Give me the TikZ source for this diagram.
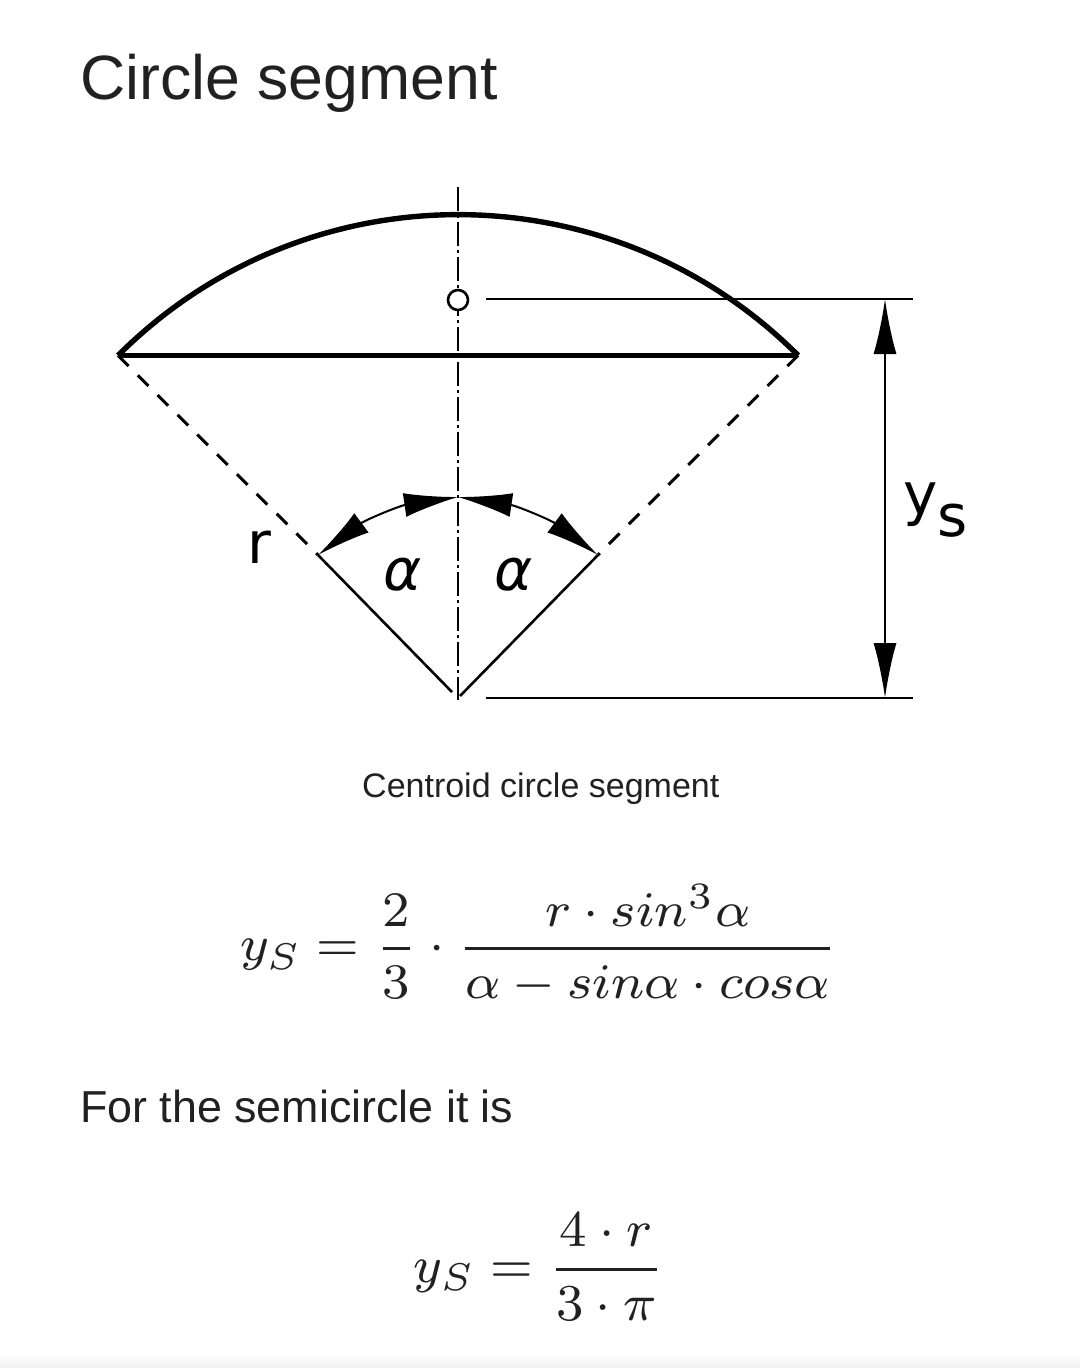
\documentclass[tikz,border=0pt]{standalone}
\usepackage{fontspec}
\usepackage{tikz}
\usetikzlibrary{arrows.meta}
\setmainfont{Liberation Sans}
\newfontfamily\figfont{DejaVu Sans}
\definecolor{textgray}{HTML}{212121}

\tikzset{
  thickline/.style={line width=5.4pt},
  thinline/.style={line width=2pt},
  dashline/.style={line width=3pt, dash pattern=on 15pt off 13pt},
  axisline/.style={line width=1.8pt, dash pattern=on 24pt off 4pt on 3pt off 4pt},
  bigtip/.tip={Latex[length=55pt,width=23pt]},
  arctip/.tip={Latex[length=54pt,width=24pt]},
  heading/.style={anchor=base west, text=textgray, inner sep=0pt},
  formula/.style={transform shape, text=textgray, inner sep=0pt, font=\fontsize{8}{10}\selectfont},
  figlabel/.style={inner sep=0pt, font=\figfont\fontsize{58}{58}\selectfont}
}

\begin{document}
\begin{tikzpicture}[x=1pt, y=-1pt]
        \useasboundingbox (0,0) rectangle (1080,1368);
        \shade [top color=white, bottom color=black!5] (0,1352) rectangle (1080,1368); %page edge
        \coordinate (centre) at (458,698);
        \coordinate (chordL) at (118,355.5);
        \coordinate (chordR) at (798,355.5);
        \coordinate (tickL)  at (318,555);
        \coordinate (tickR)  at (598,555);
        \coordinate (apex)   at (458,497);
        \coordinate (dimT)   at (885,299);
        \coordinate (dimB)   at (885,698);
        \node [heading, font=\fontsize{62.6}{62.6}\selectfont] (title) at (80,99) {Circle segment};
        \draw [thickline]   (chordL) arc [start angle=135, end angle=45, radius=481pt]; %arc
        \draw [thickline]   (chordL) -- (chordR);                                       %chord
        \draw [axisline]    (458,187) -- (458,700);                                     %axis
        \draw [dashline]    (chordL) -- (tickL);                                        %
        \draw [dashline]    (chordR) -- (tickR);                                        %
        \draw [thinline, line width=2.6pt] (tickL) -- (452,692);                        %
        \draw [thinline, line width=2.6pt] (tickR) -- (460,696);                        %
        \node [circle, draw, fill=white, line width=2.6pt, minimum size=20pt, inner sep=0pt] (centroid) at (458,300) {};
        \draw [thinline]    (486,299) -- (913,299);                                     %top
        \draw [thinline]    (486,698) -- (913,698);                                     %bottom
        \draw [thinline, bigtip-bigtip] (dimT) -- (dimB);                               %ys
        \draw [thinline, arctip-arctip] (tickL) to [bend left=14] (apex);               %
        \draw [thinline, arctip-arctip] (apex)  to [bend left=14] (tickR);              %
        \node [figlabel] (radius) at (259,547) {r};
        \node [figlabel, font=\figfont\itshape\fontsize{58}{58}\selectfont] (alphaL) at (403,575) {α};
        \node [figlabel, font=\figfont\itshape\fontsize{58}{58}\selectfont] (alphaR) at (514,575) {α};
        \node [figlabel, anchor=base west] (ysdim) at (903,514) {y\raisebox{-22pt}{s}};
        \node [heading, font=\fontsize{34}{34}\selectfont] (caption) at (362,797) {Centroid circle segment};
        \node [heading, font=\fontsize{44.8}{44.8}\selectfont] (semi) at (80,1122) {For the semicircle it is};
        \node [formula, xscale=6.45, yscale=6.2] (eqone) at (539,944) {$\displaystyle y_S = \frac{2}{3}\cdot\frac{r\cdot sin^3\alpha}{\alpha - sin\alpha\cdot cos\alpha}$};
        \node [formula, scale=6.45] (eqtwo) at (539,1267) {$\displaystyle y_S = \frac{4\cdot r}{3\cdot\pi}$};
\end{tikzpicture}
\end{document}
